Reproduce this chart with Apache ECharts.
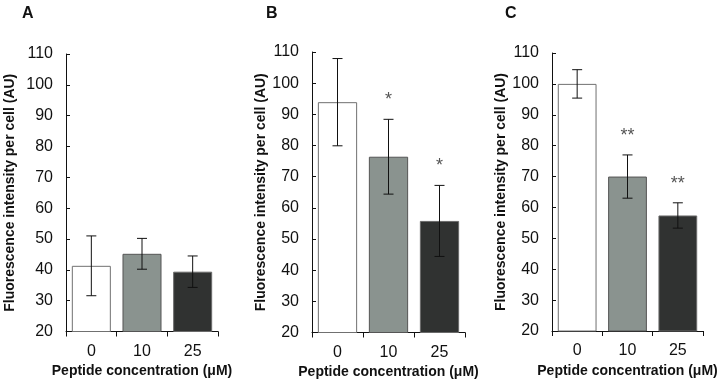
<!DOCTYPE html>
<html>
<head>
<meta charset="utf-8">
<script src="https://cdn.jsdelivr.net/npm/echarts@6/dist/echarts.min.js"></script>
<style>
    html, body { margin: 0; padding: 0; background: #fff; }
    #chart { width: 718px; height: 386px; }
</style>
</head>
<body>
<div id="chart"></div>
<script>
    // 数据
    const categories = ['0', '10', '25'];
    const panelLabels = ['A', 'B', 'C'];
    const yMin = 20, yMax = 110, yStep = 10;

    const meansA = [41.3, 45.2, 39.4];
    const errA = [9.7, 5.0, 5.1];
    const marksA = ['', '', ''];

    const meansB = [93.9, 76.4, 55.8];
    const errB = [14.0, 12.0, 11.4];
    const marksB = ['', '*', '*'];

    const meansC = [100.0, 70.0, 57.4];
    const errC = [4.6, 7.0, 4.1];
    const marksC = ['', '**', '**'];

    const yName = 'Fluorescence intensity per cell (AU)';
    const xName = 'Peptide concentration (μM)';

    const font = 'Liberation Sans, Arial, Helvetica, sans-serif';
    const barColors = ['#ffffff', '#8a938f', '#303231'];
    const barBorders = ['#707070', '#555555', '#6a6a6a'];

    const panels = [
        {means: meansA, err: errA, marks: marksA, grid: {left: 66, top: 54, width: 152, height: 277.5}, nameGap: 49, title: 22},
        {means: meansB, err: errB, marks: marksB, grid: {left: 312, top: 52, width: 153, height: 280.5}, nameGap: 40, title: 266},
        {means: meansC, err: errC, marks: marksC, grid: {left: 552, top: 53, width: 151, height: 278}, nameGap: 41, title: 505}
    ];

    function errorBars(marks) {
        return function (params, api) {
            const i = api.value(0);
            const hi = api.coord([i, api.value(1)]);
            const lo = api.coord([i, api.value(2)]);
            const cap = 5;
            const st = {stroke: '#111', lineWidth: 1};
            const children = [
                {type: 'line', shape: {x1: hi[0], y1: hi[1], x2: lo[0], y2: lo[1]}, style: st},
                {type: 'line', shape: {x1: hi[0] - cap, y1: hi[1], x2: hi[0] + cap, y2: hi[1]}, style: st},
                {type: 'line', shape: {x1: lo[0] - cap, y1: lo[1], x2: lo[0] + cap, y2: lo[1]}, style: st}
            ];
            const m = marks[params.dataIndex];
            if (m) {
                children.push({
                    type: 'text',
                    style: {
                        x: hi[0], y: hi[1] - 19, text: m,
                        align: 'center', verticalAlign: 'middle',
                        font: '18px ' + font, fill: '#555'
                    }
                });
            }
            return {type: 'group', children: children};
        };
    }

    const option = {
        animation: false,
        backgroundColor: '#fff',
        title: [],
        grid: [],
        xAxis: [],
        yAxis: [],
        series: []
    };

    panels.forEach((p, k) => {
        option.title.push({
            text: panelLabels[k], left: p.title, top: 6, padding: 0,
            textStyle: {fontFamily: font, fontSize: 16, fontWeight: 'bold', color: '#111'}
        });
        option.grid.push(Object.assign({containLabel: false, outerBoundsMode: 'none'}, p.grid));
        option.xAxis.push({
            type: 'category',
            gridIndex: k,
            data: categories,
            boundaryGap: true,
            name: xName,
            nameLocation: 'middle',
            nameGap: 31,
            nameTextStyle: {fontFamily: font, fontSize: 14, fontWeight: 'bold', color: '#111'},
            axisLine: {lineStyle: {color: '#111', width: 1}},
            axisTick: {show: true, length: 5, alignWithLabel: false, lineStyle: {color: '#111'}},
            axisLabel: {fontFamily: font, fontSize: 16, color: '#111', margin: 12}
        });
        option.yAxis.push({
            type: 'value',
            gridIndex: k,
            min: yMin,
            max: yMax,
            interval: yStep,
            name: yName,
            nameLocation: 'middle',
            nameGap: p.nameGap,
            nameRotate: 90,
            nameTextStyle: {fontFamily: font, fontSize: 14, fontWeight: 'bold', color: '#111'},
            axisLine: {show: true, lineStyle: {color: '#111', width: 1}},
            axisTick: {show: true, inside: true, length: 4, lineStyle: {color: '#111'}},
            axisLabel: {fontFamily: font, fontSize: 16, color: '#111', margin: 13},
            splitLine: {show: false}
        });
        option.series.push({
            type: 'bar',
            xAxisIndex: k,
            yAxisIndex: k,
            barCategoryGap: '23%',
            data: p.means.map((v, i) => ({
                value: v,
                itemStyle: {color: barColors[i], borderColor: barBorders[i], borderWidth: 1}
            }))
        });
        option.series.push({
            type: 'custom',
            xAxisIndex: k,
            yAxisIndex: k,
            z: 5,
            renderItem: errorBars(p.marks),
            data: p.means.map((v, i) => [i, v + p.err[i], v - p.err[i]])
        });
    });

    const chart = echarts.init(document.getElementById('chart'));
    chart.setOption(option);
    window.addEventListener('resize', () => chart.resize());
</script>
</body>
</html>
